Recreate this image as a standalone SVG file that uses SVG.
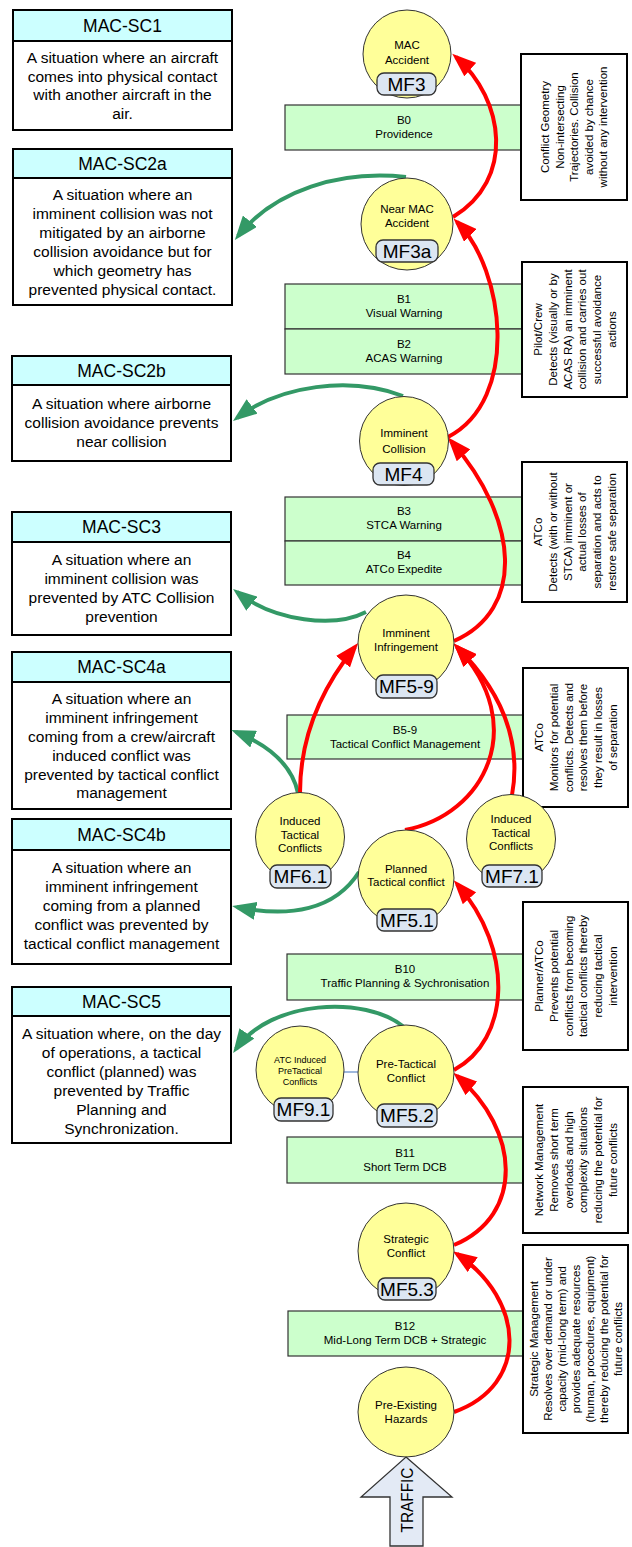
<svg xmlns="http://www.w3.org/2000/svg" width="632" height="1547" viewBox="0 0 632 1547">
<style>
text{font-family:"Liberation Sans",Arial,sans-serif;fill:#000;text-anchor:middle}
.hdr{fill:#ccffff;stroke:#000;stroke-width:2}
.bdy{fill:#fff;stroke:#000;stroke-width:2}
.ht{font-size:17.5px}
.bt{font-size:15.5px}
.band{fill:#ccffcc;stroke:#333;stroke-width:1.2}
.bnt{font-size:11.5px}
.rb{fill:#fff;stroke:#000;stroke-width:2}
.rt{font-size:11.5px}
.c{fill:#ffff99;stroke:#333;stroke-width:1}
.ct{font-size:11.5px}
.cs{font-size:9px}
.lb{fill:#dce6f2;stroke:#333;stroke-width:1.3}
.lt{font-size:19px}
.r{fill:none;stroke:#ff0000;stroke-width:4;marker-end:url(#ar)}
.g{fill:none;stroke:#339966;stroke-width:4;marker-end:url(#ag)}
</style>
<defs>
<marker id="ar" markerUnits="userSpaceOnUse" markerWidth="24" markerHeight="18" viewBox="0 0 24 18" refX="19" refY="9" orient="auto"><path d="M0,0 L24,9 L0,18 z" fill="#ff0000"/></marker>
<marker id="ag" markerUnits="userSpaceOnUse" markerWidth="24" markerHeight="18" viewBox="0 0 24 18" refX="19" refY="9" orient="auto"><path d="M0,0 L24,9 L0,18 z" fill="#339966"/></marker>
</defs>
<rect width="632" height="1547" fill="#fff"/>

<!-- barrier bands -->
<g id="bands">
<g id="b0"><rect class="band" x="285" y="105" width="237" height="45"/><text class="bnt"><tspan x="404" y="124">B0</tspan><tspan x="404" y="138">Providence</tspan></text></g>
<g id="b1"><rect class="band" x="285" y="284" width="237" height="45"/><text class="bnt"><tspan x="404" y="303">B1</tspan><tspan x="404" y="317">Visual Warning</tspan></text></g>
<g id="b2"><rect class="band" x="285" y="329" width="237" height="45"/><text class="bnt"><tspan x="404" y="348">B2</tspan><tspan x="404" y="362">ACAS Warning</tspan></text></g>
<g id="b3"><rect class="band" x="285" y="497" width="237" height="44"/><text class="bnt"><tspan x="404" y="515">B3</tspan><tspan x="404" y="529">STCA Warning</tspan></text></g>
<g id="b4"><rect class="band" x="285" y="541" width="237" height="44"/><text class="bnt"><tspan x="404" y="559">B4</tspan><tspan x="404" y="573">ATCo Expedite</tspan></text></g>
<g id="b5-9"><rect class="band" x="287" y="715" width="236" height="44"/><text class="bnt"><tspan x="405" y="734">B5-9</tspan><tspan x="405" y="748">Tactical Conflict Management</tspan></text></g>
<g id="b10"><rect class="band" x="287" y="954" width="236" height="46"/><text class="bnt"><tspan x="405" y="973">B10</tspan><tspan x="405" y="987">Traffic Planning &amp; Sychronisation</tspan></text></g>
<g id="b11"><rect class="band" x="287" y="1137" width="236" height="46"/><text class="bnt"><tspan x="405" y="1157">B11</tspan><tspan x="405" y="1171">Short Term DCB</tspan></text></g>
<g id="b12"><rect class="band" x="288" y="1311" width="235" height="45"/><text class="bnt"><tspan x="405" y="1330">B12</tspan><tspan x="405" y="1344">Mid-Long Term DCB + Strategic</tspan></text></g>
</g>

<!-- right description boxes -->
<g id="rbox1"><rect class="rb" x="521" y="54" width="106" height="146"/>
<text class="rt" transform="translate(574,127) rotate(-90)"><tspan x="0" y="-25">Conflict Geometry</tspan><tspan x="0" y="-10.5">Non-intersecting</tspan><tspan x="0" y="4">Trajectories. Collision</tspan><tspan x="0" y="18.5">avoided by chance</tspan><tspan x="0" y="33">without any intervention</tspan></text></g>
<g id="rbox2"><rect class="rb" x="522" y="262" width="105" height="135"/>
<text class="rt" transform="translate(575,329.5) rotate(-90)"><tspan x="0" y="-32.8">Pilot/Crew</tspan><tspan x="0" y="-18">Detects (visually or by</tspan><tspan x="0" y="-3.3">ACAS RA) an imminent</tspan><tspan x="0" y="11.4">collision and carries out</tspan><tspan x="0" y="26.1">successful avoidance</tspan><tspan x="0" y="40.8">actions</tspan></text></g>
<g id="rbox3"><rect class="rb" x="522" y="462" width="105" height="140"/>
<text class="rt" transform="translate(575,532) rotate(-90)"><tspan x="0" y="-32.8">ATCo</tspan><tspan x="0" y="-18">Detects (with or without</tspan><tspan x="0" y="-3.3">STCA) imminent or</tspan><tspan x="0" y="11.4">actual losses of</tspan><tspan x="0" y="26.1">separation and acts to</tspan><tspan x="0" y="40.8">restore safe separation</tspan></text></g>
<g id="rbox4"><rect class="rb" x="523" y="668" width="105" height="139"/>
<text class="rt" transform="translate(576,737.5) rotate(-90)"><tspan x="0" y="-32.8">ATCo</tspan><tspan x="0" y="-18">Monitors for potential</tspan><tspan x="0" y="-3.3">conflicts. Detects and</tspan><tspan x="0" y="11.4">resolves them before</tspan><tspan x="0" y="26.1">they result in losses</tspan><tspan x="0" y="40.8">of separation</tspan></text></g>
<g id="rbox5"><rect class="rb" x="523" y="902" width="105" height="148"/>
<text class="rt" transform="translate(576,976) rotate(-90)"><tspan x="0" y="-32.8">Planner/ATCo</tspan><tspan x="0" y="-18">Prevents potential</tspan><tspan x="0" y="-3.3">conflicts from becoming</tspan><tspan x="0" y="11.4">tactical conflicts thereby</tspan><tspan x="0" y="26.1">reducing tactical</tspan><tspan x="0" y="40.8">intervention</tspan></text></g>
<g id="rbox6"><rect class="rb" x="523" y="1087" width="105" height="146"/>
<text class="rt" transform="translate(576,1160) rotate(-90)"><tspan x="0" y="-32.8">Network Management</tspan><tspan x="0" y="-18">Removes short term</tspan><tspan x="0" y="-3.3">overloads and high</tspan><tspan x="0" y="11.4">complexity situations</tspan><tspan x="0" y="26.1">reducing the potential for</tspan><tspan x="0" y="40.8">future conflicts</tspan></text></g>
<g id="rbox7"><rect class="rb" x="523" y="1245" width="105" height="188"/>
<text class="rt" transform="translate(575.5,1339) rotate(-90)"><tspan x="0" y="-38">Strategic Management</tspan><tspan x="0" y="-24">Resolves over demand or under</tspan><tspan x="0" y="-10">capacity (mid-long term) and</tspan><tspan x="0" y="4">provides adequate resources</tspan><tspan x="0" y="18">(human, procedures, equipment)</tspan><tspan x="0" y="32">thereby reducing the potential for</tspan><tspan x="0" y="46">future conflicts</tspan></text></g>

<!-- left scenario boxes -->
<g id="mac-sc1"><rect class="hdr" x="13" y="10" width="219" height="31"/><rect class="bdy" x="13" y="41" width="219" height="89"/>
<text class="ht" x="122.5" y="32">MAC-SC1</text>
<text class="bt"><tspan x="122.5" y="63">A situation where an aircraft</tspan><tspan x="122.5" y="81.7">comes into physical contact</tspan><tspan x="122.5" y="100.4">with another aircraft in the</tspan><tspan x="122.5" y="119">air.</tspan></text></g>
<g id="mac-sc2a"><rect class="hdr" x="13" y="149" width="219" height="29"/><rect class="bdy" x="13" y="178" width="219" height="127"/>
<text class="ht" x="122.5" y="170">MAC-SC2a</text>
<text class="bt"><tspan x="122.5" y="200">A situation where an</tspan><tspan x="122.5" y="219">imminent collision was not</tspan><tspan x="122.5" y="238">mitigated by an airborne</tspan><tspan x="122.5" y="257">collision avoidance but for</tspan><tspan x="122.5" y="276">which geometry has</tspan><tspan x="122.5" y="295">prevented physical contact.</tspan></text></g>
<g id="mac-sc2b"><rect class="hdr" x="12" y="356" width="219" height="29"/><rect class="bdy" x="12" y="385" width="219" height="76"/>
<text class="ht" x="121.5" y="377">MAC-SC2b</text>
<text class="bt"><tspan x="121.5" y="409">A situation where airborne</tspan><tspan x="121.5" y="428">collision avoidance prevents</tspan><tspan x="121.5" y="447">near collision</tspan></text></g>
<g id="mac-sc3"><rect class="hdr" x="12" y="512" width="219" height="30"/><rect class="bdy" x="12" y="542" width="219" height="93"/>
<text class="ht" x="121.5" y="533">MAC-SC3</text>
<text class="bt"><tspan x="121.5" y="565">A situation where an</tspan><tspan x="121.5" y="584">imminent collision was</tspan><tspan x="121.5" y="603">prevented by ATC Collision</tspan><tspan x="121.5" y="622">prevention</tspan></text></g>
<g id="mac-sc4a"><rect class="hdr" x="12" y="652" width="219" height="30"/><rect class="bdy" x="12" y="682" width="219" height="127"/>
<text class="ht" x="121.5" y="673">MAC-SC4a</text>
<text class="bt"><tspan x="121.5" y="704">A situation where an</tspan><tspan x="121.5" y="723">imminent infringement</tspan><tspan x="121.5" y="742">coming from a crew/aircraft</tspan><tspan x="121.5" y="761">induced conflict was</tspan><tspan x="121.5" y="780">prevented by tactical conflict</tspan><tspan x="121.5" y="798">management</tspan></text></g>
<g id="mac-sc4b"><rect class="hdr" x="12" y="819" width="219" height="31"/><rect class="bdy" x="12" y="850" width="219" height="114"/>
<text class="ht" x="121.5" y="841">MAC-SC4b</text>
<text class="bt"><tspan x="121.5" y="873">A situation where an</tspan><tspan x="121.5" y="892">imminent infringement</tspan><tspan x="121.5" y="911">coming from a planned</tspan><tspan x="121.5" y="930">conflict was prevented by</tspan><tspan x="121.5" y="949">tactical conflict management</tspan></text></g>
<g id="mac-sc5"><rect class="hdr" x="12" y="987" width="219" height="29"/><rect class="bdy" x="12" y="1016" width="219" height="127"/>
<text class="ht" x="121.5" y="1008">MAC-SC5</text>
<text class="bt"><tspan x="121.5" y="1039">A situation where, on the day</tspan><tspan x="121.5" y="1058">of operations, a tactical</tspan><tspan x="121.5" y="1077">conflict (planned) was</tspan><tspan x="121.5" y="1096">prevented by Traffic</tspan><tspan x="121.5" y="1115">Planning and</tspan><tspan x="121.5" y="1134">Synchronization.</tspan></text></g>

<!-- connectors -->
<g id="connectors">
<line x1="344" y1="1072" x2="358" y2="1072" stroke="#7fa0d0" stroke-width="1.5"/>
<path class="g" d="M406,177 C340,170 275,190 238,236"/>
<path class="g" d="M403,396 C350,376 280,385 237,418"/>
<path class="g" d="M366,612 C335,628 275,622 237,592"/>
<path class="g" d="M298,793 C292,765 268,745 236,732"/>
<path class="g" d="M359,872 C335,910 290,918 237,907"/>
<path class="g" d="M404,1027 C365,995 270,1000 236,1049"/>
<path class="r" d="M453,217 C515,180 505,100 456,57"/>
<path class="r" d="M448,437 C520,400 505,270 457,222"/>
<path class="r" d="M454,641 C525,610 520,520 451,441"/>
<path class="r" d="M300,793 C300,740 320,690 355,647"/>
<path class="r" d="M405,830 C485,815 530,725 457,647"/>
<path class="r" d="M512,795 C522,740 500,690 457,647"/>
<path class="r" d="M454,1070 C510,1040 515,950 457,884"/>
<path class="r" d="M454,1245 C525,1215 520,1130 457,1076"/>
<path class="r" d="M454,1412 C530,1385 525,1300 457,1254"/>
</g>

<!-- state nodes -->
<g id="mf3"><circle class="c" cx="407" cy="54" r="44"/><text class="ct"><tspan x="407" y="49">MAC</tspan><tspan x="407" y="64">Accident</tspan></text>
<rect class="lb" x="377" y="73" width="59" height="22" rx="7"/><text class="lt" x="406.5" y="91">MF3</text></g>
<g id="mf3a"><circle class="c" cx="407" cy="224" r="46"/><text class="ct"><tspan x="407" y="213">Near MAC</tspan><tspan x="407" y="227">Accident</tspan></text>
<rect class="lb" x="376" y="240" width="62" height="22" rx="7"/><text class="lt" x="407" y="258">MF3a</text></g>
<g id="mf4"><circle class="c" cx="404" cy="441" r="44.5"/><text class="ct"><tspan x="404" y="437">Imminent</tspan><tspan x="404" y="453">Collision</tspan></text>
<rect class="lb" x="373" y="463" width="61" height="22" rx="7"/><text class="lt" x="403.5" y="481">MF4</text></g>
<g id="mf5-9"><circle class="c" cx="406" cy="643" r="48"/><text class="ct"><tspan x="406" y="637">Imminent</tspan><tspan x="406" y="651">Infringement</tspan></text>
<rect class="lb" x="376" y="675" width="61" height="23" rx="7"/><text class="lt" x="406.5" y="693">MF5-9</text></g>
<g id="mf6-1"><circle class="c" cx="300" cy="837" r="44.5"/><text class="ct"><tspan x="300" y="825">Induced</tspan><tspan x="300" y="838.5">Tactical</tspan><tspan x="300" y="852">Conflicts</tspan></text>
<rect class="lb" x="270" y="865" width="61" height="23" rx="7"/><text class="lt" x="300.5" y="883">MF6.1</text></g>
<g id="mf5-1"><circle class="c" cx="406" cy="878" r="48"/><text class="ct"><tspan x="406" y="873">Planned</tspan><tspan x="406" y="886">Tactical conflict</tspan></text>
<rect class="lb" x="377" y="909" width="60" height="22" rx="7"/><text class="lt" x="407" y="927">MF5.1</text></g>
<g id="mf7-1"><circle class="c" cx="511" cy="839" r="44.5"/><text class="ct"><tspan x="511" y="823">Induced</tspan><tspan x="511" y="836.5">Tactical</tspan><tspan x="511" y="850">Conflicts</tspan></text>
<rect class="lb" x="482" y="865" width="60" height="22" rx="7"/><text class="lt" x="512" y="883">MF7.1</text></g>
<g id="mf9-1"><circle class="c" cx="300" cy="1070" r="44"/><text class="cs"><tspan x="300" y="1063">ATC Induced</tspan><tspan x="300" y="1074">PreTactical</tspan><tspan x="300" y="1085">Conflicts</tspan></text>
<rect class="lb" x="274" y="1098" width="59" height="23" rx="7"/><text class="lt" x="303.5" y="1116">MF9.1</text></g>
<g id="mf5-2"><circle class="c" cx="406" cy="1073" r="48"/><text class="ct"><tspan x="406" y="1068">Pre-Tactical</tspan><tspan x="406" y="1082">Conflict</tspan></text>
<rect class="lb" x="377" y="1104" width="60" height="23" rx="7"/><text class="lt" x="407" y="1122">MF5.2</text></g>
<g id="mf5-3"><circle class="c" cx="406" cy="1251" r="48"/><text class="ct"><tspan x="406" y="1243">Strategic</tspan><tspan x="406" y="1257">Conflict</tspan></text>
<rect class="lb" x="378" y="1278" width="58" height="22" rx="7"/><text class="lt" x="407" y="1296">MF5.3</text></g>
<g id="pre-existing"><ellipse class="c" cx="406" cy="1412" rx="48" ry="45"/><text class="ct"><tspan x="406" y="1409">Pre-Existing</tspan><tspan x="406" y="1423">Hazards</tspan></text></g>

<g id="traffic"><polygon points="406,1457 452,1497 423,1497 423,1546 390,1546 390,1497 361,1497" fill="#e3eaf5" stroke="#333" stroke-width="1.3"/>
<text transform="translate(413,1500) rotate(-90)" x="0" y="0" font-size="17px" textLength="65" lengthAdjust="spacingAndGlyphs">TRAFFIC</text></g>
</svg>
